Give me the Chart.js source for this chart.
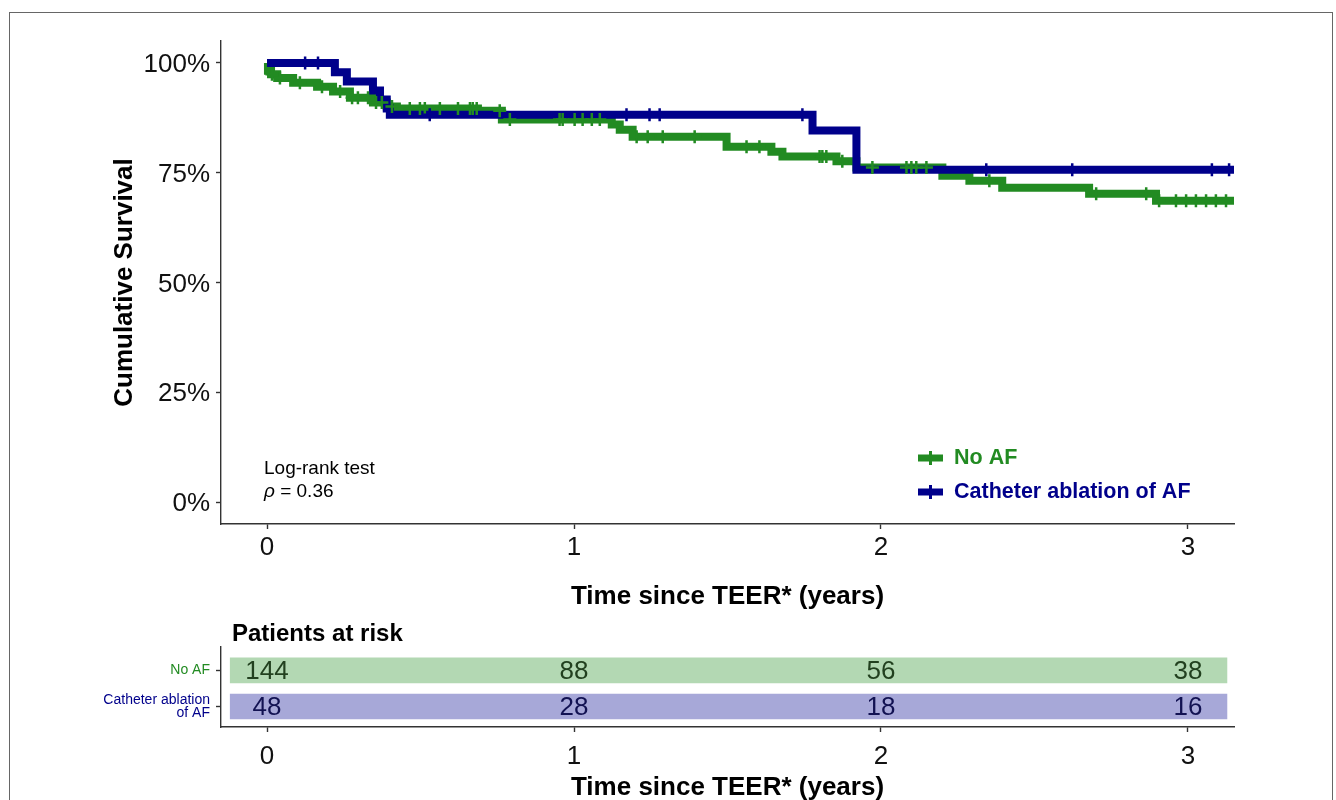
<!DOCTYPE html>
<html>
<head>
<meta charset="utf-8">
<title>Cumulative survival after TEER</title>
<script src="https://cdn.jsdelivr.net/npm/chart.js@4.4.1/dist/chart.umd.min.js"></script>
<style>
  html, body { margin: 0; padding: 0; background: #fff; overflow: hidden; }
  body { width: 1336px; height: 800px; position: relative; }
  #frame { position: absolute; left: 9px; top: 12px; width: 1324px; height: 830px; border: 1.5px solid #666; box-sizing: border-box; }
  #survChart { position: absolute; left: 0; top: 0; }
  #riskChart { position: absolute; left: 0; top: 620px; }
</style>
</head>
<body>
<div id="frame"></div>
<canvas id="survChart" width="1336" height="620"></canvas>
<canvas id="riskChart" width="1336" height="200"></canvas>

<script>
// survival.js

const FONT = '"Liberation Sans", Arial, Helvetica, sans-serif';
Chart.defaults.font.family = FONT;
Chart.defaults.color = '#111';

// =============================
// Data
// =============================
const seriesNames = ['No AF', 'Catheter ablation of AF'];

// Kaplan-Meier steps, time in years
const noAfTimes = [0, 0.003, 0.013, 0.033, 0.085, 0.163, 0.215, 0.27, 0.345, 0.39, 0.423, 0.687, 0.765,
  1.123, 1.149, 1.191, 1.497, 1.643, 1.679, 1.855, 1.92, 2.2, 2.288, 2.395, 2.678, 2.896, 3.15];
const noAfSurv = [1, 0.982, 0.974, 0.966, 0.955, 0.946, 0.935, 0.921, 0.910, 0.901, 0.896, 0.891, 0.871,
  0.860, 0.848, 0.832, 0.809, 0.798, 0.787, 0.776, 0.762, 0.743, 0.732, 0.716, 0.702, 0.686, 0.686];

const ablTimes = [0, 0.221, 0.26, 0.345, 0.368, 0.39, 0.40, 1.777, 1.92, 3.15];
const ablSurv = [1, 0.979, 0.958, 0.937, 0.917, 0.896, 0.882, 0.846, 0.757, 0.757];

// censored observations (time in years)
const noAfCensor = [0.016, 0.042, 0.107, 0.179, 0.238, 0.277, 0.296, 0.329, 0.355, 0.374, 0.407, 0.465,
  0.498, 0.514, 0.563, 0.622, 0.661, 0.67, 0.683, 0.758, 0.791, 0.953, 0.963, 1.002, 1.028, 1.058, 1.084,
  1.204, 1.24, 1.289, 1.393, 1.562, 1.604, 1.8, 1.809, 1.822, 1.874, 1.972, 2.083, 2.099, 2.115, 2.148,
  2.353, 2.701, 2.864, 2.906, 2.961, 2.994, 3.026, 3.059, 3.091, 3.124];
const ablCensor = [0.124, 0.166, 0.53, 1.171, 1.246, 1.279, 1.744, 2.343, 2.623, 3.078, 3.134];

// axes
const xTicks = [0, 1, 2, 3];
const yTicks = [0, 0.25, 0.5, 0.75, 1];

// patients at risk at each x tick
const riskRowLabels = [['No AF'], ['Catheter ablation', 'of AF']];
const noAfRisk = [144, 88, 56, 38];
const ablRisk = [48, 28, 18, 16];
const riskBarSpan = [-0.12, 3.127];

// =============================
// Styles
// =============================
const GREEN = '#228B22';
const BLUE = '#00008B';
const GREEN_FILL = '#b3d8b3';
const BLUE_FILL = '#a7a8d8';
const GREEN_NUM = '#22401f';
const BLUE_NUM = '#121252';
const AXIS = '#333';

const X_MIN = -0.15, X_MAX = 3.15;

// Helpers
const toPoints = (xs, ys) => xs.map((x, i) => ({ x, y: ys[i] }));
const survAt = (times, surv, t) => {
  let s = surv[0];
  times.forEach((tt, i) => { if (tt <= t) s = surv[i]; });
  return s;
};
const censorPoints = (cens, times, surv) => cens.map(t => ({ x: t, y: survAt(times, surv, t) }));

const axisLine = { display: true, color: AXIS, width: 1.4 };
const tickMarks = { display: true, offset: false, drawOnChartArea: false, drawTicks: true, tickLength: 5, tickColor: AXIS, tickWidth: 1.4 };

// =============================
// Annotations + legend
// =============================
const survNotes = {
  id: 'survNotes',
  afterDraw(chart) {
    const { ctx } = chart;
    ctx.save();
    ctx.textBaseline = 'middle';
    ctx.fillStyle = '#000';
    ctx.font = `19px ${FONT}`;
    ctx.fillText('Log-rank test', 264, 469);
    ctx.font = `italic 19px ${FONT}`;
    ctx.fillText('ρ', 264, 492);
    const w = ctx.measureText('ρ').width;
    ctx.font = `19px ${FONT}`;
    ctx.fillText(' = 0.36', 264 + w, 492);

    // legend
    const cols = [GREEN, BLUE];
    seriesNames.forEach((name, i) => {
      const y = 458 + i * 34;
      ctx.fillStyle = cols[i];
      ctx.fillRect(918, y - 3.5, 25, 7);
      ctx.fillRect(929, y - 7, 3, 14);
      ctx.font = `bold 21.5px ${FONT}`;
      ctx.fillText(name, 954, y);
    });
    ctx.restore();
  }
};

const riskNumbers = {
  id: 'riskNumbers',
  afterDatasetsDraw(chart) {
    const { ctx, scales } = chart;
    ctx.save();
    ctx.textAlign = 'center';
    ctx.textBaseline = 'middle';
    ctx.font = `26px ${FONT}`;
    [[noAfRisk, GREEN_NUM, 1], [ablRisk, BLUE_NUM, 2]].forEach(([vals, col, row]) => {
      ctx.fillStyle = col;
      vals.forEach((v, i) => {
        ctx.fillText(String(v), scales.x.getPixelForValue(xTicks[i]), scales.y.getPixelForValue(row) + 1);
      });
    });
    ctx.restore();
  },
  afterDraw(chart) {
    const { ctx } = chart;
    ctx.save();
    ctx.textBaseline = 'middle';
    ctx.fillStyle = '#000';
    ctx.font = `bold 24px ${FONT}`;
    ctx.fillText('Patients at risk', 232, 14);
    ctx.restore();
  }
};

// =============================
// Survival chart
// =============================
new Chart(document.getElementById('survChart'), {
  type: 'line',
  data: {
    datasets: [
      { type: 'scatter', data: censorPoints(ablCensor, ablTimes, ablSurv), pointStyle: 'cross', pointRadius: 6.5,
        pointBorderWidth: 2.5, borderColor: BLUE, backgroundColor: BLUE, showLine: false, order: 0 },
      { type: 'scatter', data: censorPoints(noAfCensor, noAfTimes, noAfSurv), pointStyle: 'cross', pointRadius: 6.5,
        pointBorderWidth: 2.5, borderColor: GREEN, backgroundColor: GREEN, showLine: false, order: 1 },
      { label: seriesNames[1], data: toPoints(ablTimes, ablSurv), stepped: true, borderColor: BLUE, borderWidth: 8,
        pointRadius: 0, borderJoinStyle: 'miter', borderCapStyle: 'butt', order: 2 },
      { label: seriesNames[0], data: toPoints(noAfTimes, noAfSurv), stepped: true, borderColor: GREEN, borderWidth: 8,
        pointRadius: 0, borderJoinStyle: 'miter', borderCapStyle: 'butt', order: 3 },
    ]
  },
  options: {
    responsive: false,
    animation: false,
    layout: { padding: { top: 41, right: 102, left: 0, bottom: 0 } },
    plugins: { legend: { display: false }, tooltip: { enabled: false } },
    scales: {
      x: {
        type: 'linear', min: X_MIN, max: X_MAX,
        afterBuildTicks: s => { s.ticks = xTicks.map(v => ({ value: v })); },
        afterFit: s => { s.height = 96; },
        border: axisLine, grid: tickMarks,
        ticks: { font: { size: 26 }, padding: 3, color: '#111' },
        title: { display: true, text: 'Time since TEER* (years)', color: '#000',
          font: { size: 26, weight: 'bold' }, padding: { top: 0, bottom: 8 } }
      },
      y: {
        type: 'linear', min: -0.05, max: 1.05,
        afterBuildTicks: s => { s.ticks = yTicks.map(v => ({ value: v })); },
        afterFit: s => { s.width = 221; },
        border: axisLine, grid: tickMarks,
        ticks: { font: { size: 26 }, padding: 6, labelOffset: 2, color: '#111', callback: v => Math.round(v * 100) + '%' },
        title: { display: true, text: 'Cumulative Survival', color: '#000',
          font: { size: 26, weight: 'bold' }, padding: { top: 109, bottom: 0 } }
      }
    }
  },
  plugins: [survNotes]
});

// =============================
// Risk table
// =============================
new Chart(document.getElementById('riskChart'), {
  type: 'bar',
  data: {
    datasets: [{
      data: [{ x: riskBarSpan, y: 1 }, { x: riskBarSpan, y: 2 }],
      backgroundColor: [GREEN_FILL, BLUE_FILL],
      barThickness: 25,
      borderWidth: 0
    }]
  },
  options: {
    indexAxis: 'y',
    responsive: false,
    animation: false,
    layout: { padding: { top: 27, right: 102, left: 0, bottom: 0 } },
    plugins: { legend: { display: false }, tooltip: { enabled: false } },
    scales: {
      x: {
        type: 'linear', min: X_MIN, max: X_MAX,
        afterBuildTicks: s => { s.ticks = xTicks.map(v => ({ value: v })); },
        afterFit: s => { s.height = 93; },
        border: axisLine, grid: tickMarks,
        ticks: { font: { size: 26 }, padding: 9, color: '#111' },
        title: { display: true, text: 'Time since TEER* (years)', color: '#000',
          font: { size: 26, weight: 'bold' }, padding: { top: 0, bottom: 17 } }
      },
      y: {
        type: 'linear', reverse: true, offset: false, min: 0.35, max: 2.57,
        afterBuildTicks: s => { s.ticks = [1, 2].map(v => ({ value: v })); },
        afterFit: s => { s.width = 221; },
        border: axisLine, grid: tickMarks,
        ticks: {
          font: { size: 14, lineHeight: 0.9 }, padding: 6,
          color: c => (c.index === 0 ? GREEN : BLUE),
          callback: (v, i) => riskRowLabels[i]
        }
      }
    }
  },
  plugins: [riskNumbers]
});
</script>
</body>
</html>
